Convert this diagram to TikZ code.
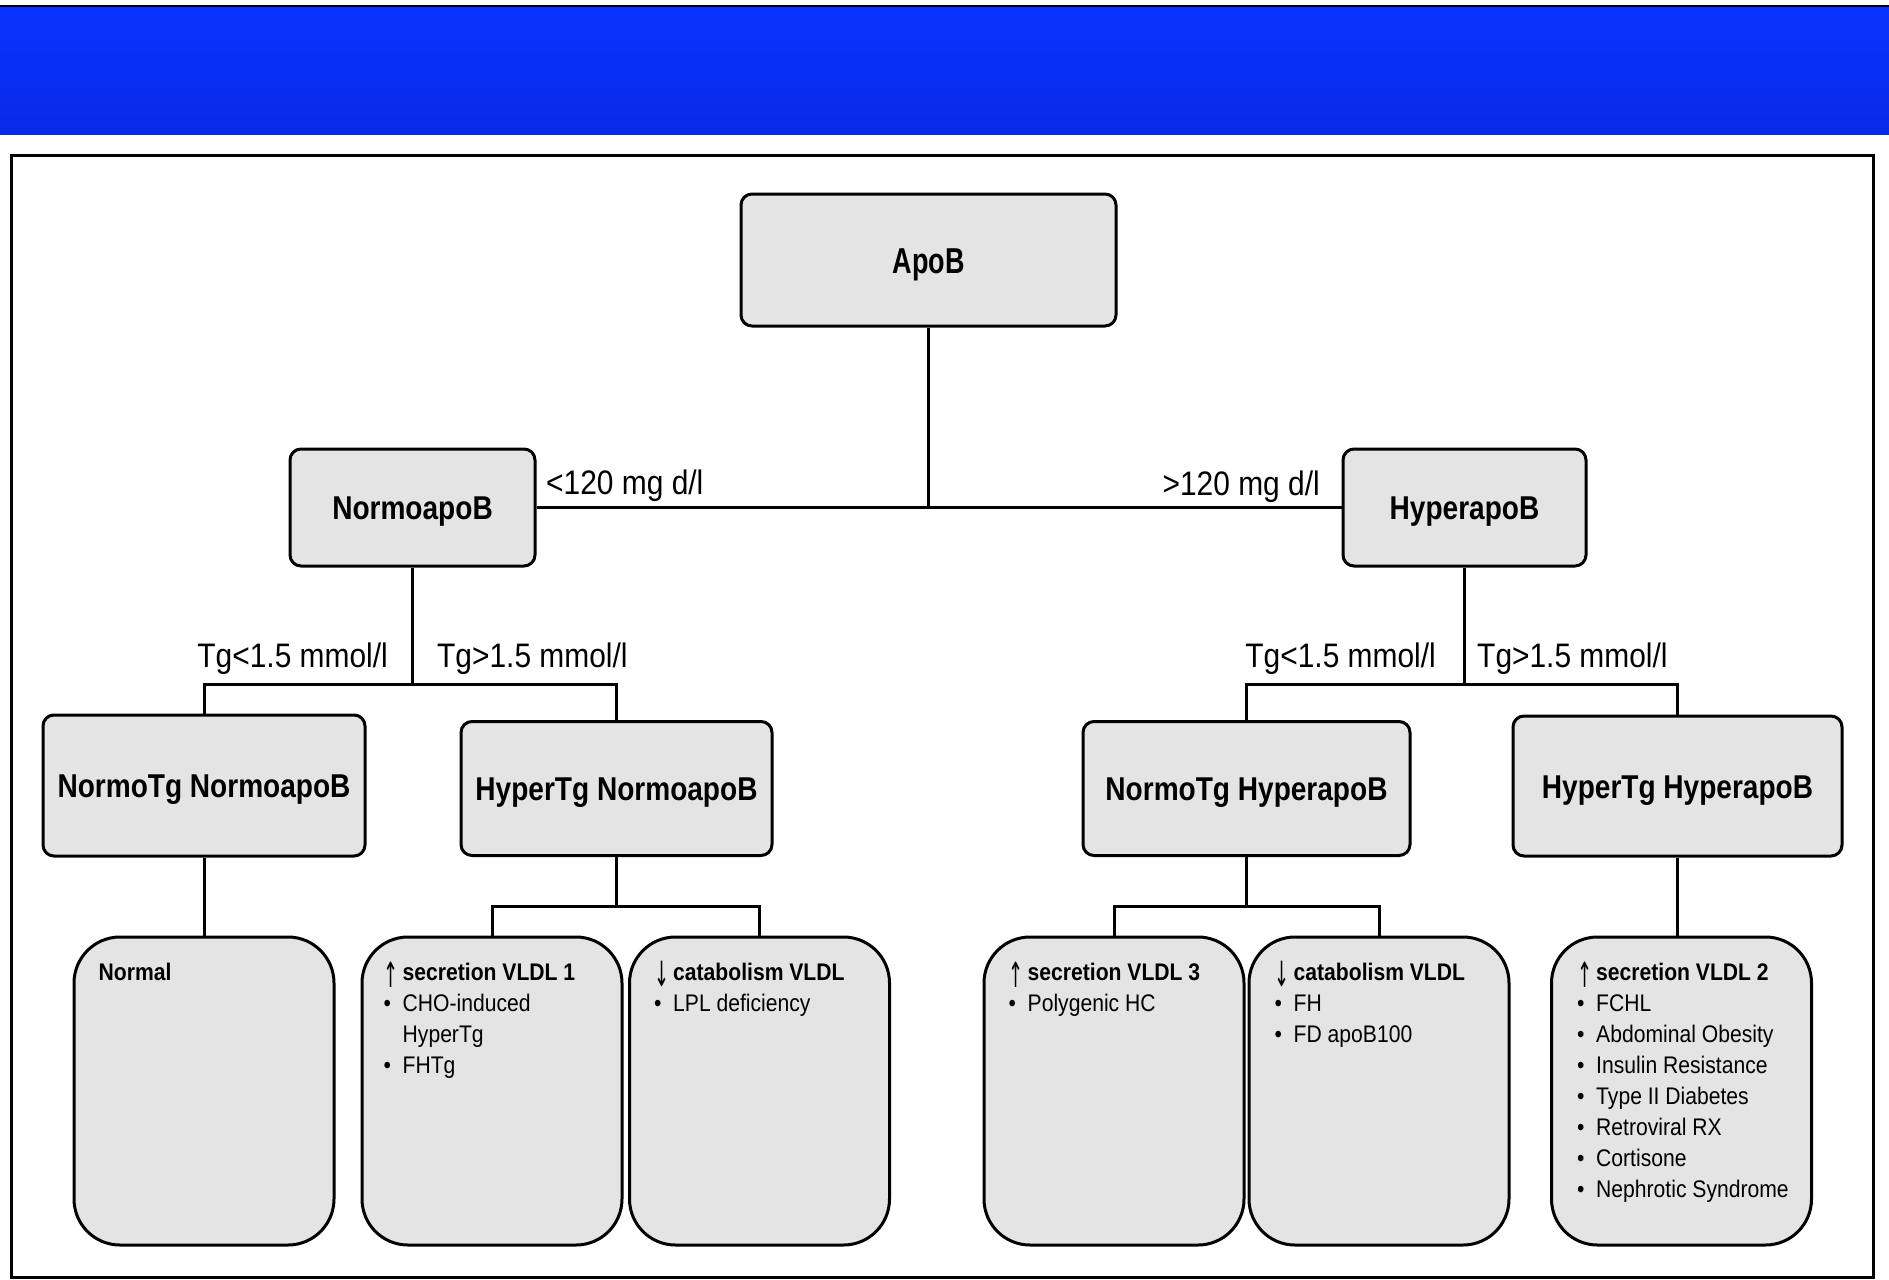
\documentclass[tikz,border=0pt]{standalone}
\usepackage{fontspec}
\usepackage{graphicx}
\setmainfont{Liberation Sans}[FakeStretch=0.88]
\newfontfamily\headfont{Liberation Sans}[FakeStretch=0.85]
\newfontfamily\apobfont{Liberation Sans}[FakeStretch=0.75]
\newfontfamily\symfont{DejaVu Sans}
\usetikzlibrary{positioning}

\definecolor{bannerblue}{RGB}{10,51,255}
\definecolor{bannerdark}{RGB}{8,41,232}
\definecolor{boxgray}{RGB}{228,228,228}

\newcommand{\risearrow}{{\symfont\raisebox{-7pt}{\scalebox{0.75}[1.45]{↑}}}}
\newcommand{\droparrow}{{\symfont\raisebox{-6pt}{\scalebox{0.75}[1.45]{↓}}}}

\tikzset{
  headbox/.style={draw, line width=3pt, fill=boxgray, rounded corners=11pt,
    inner sep=0pt, text height=24pt, text depth=0pt,
    font=\headfont\bfseries\fontsize{33}{40}\selectfont},
  leafbox/.style={draw, line width=3pt, fill=boxgray, rounded corners=46pt,
    minimum width=260pt, minimum height=308pt, inner sep=0pt},
  leaftext/.style={inner sep=0pt, align=left, font=\fontsize{24}{31}\selectfont},
  lbl/.style={inner sep=0pt, font=\fontsize{34}{40}\selectfont},
  conn/.style={line width=3pt},
}

\begin{document}
\begin{tikzpicture}[x=1pt, y=-1pt]
    % size of the slide
      \def\pagew{1889}
      \def\pageh{1279}
    % rows of splits
      \def\tgsplit{117}
      \def\leafsplit{49}

      \useasboundingbox (0,0) rectangle (\pagew,\pageh);

    % Draw the banner and the frame
      \shade[top color=bannerblue, bottom color=bannerdark] (0,7) rectangle (\pagew,135);
      \draw[line width=2pt] (0,6) -- (\pagew,6);
      \draw[line width=3pt] (11,155) rectangle (1873,1277);

    % Draw the boxes of the tree
      \node[headbox, minimum width=375pt, minimum height=132pt,
            font=\apobfont\bfseries\fontsize{36}{42}\selectfont, text height=26pt]
            (apob) at (928.5,260) {ApoB};
      \node[headbox, minimum width=245pt, minimum height=117pt] (normo) at (412.5,507.5) {NormoapoB};
      \node[headbox, minimum width=243pt, minimum height=117pt] (hyper) at (1464.5,507.5) {HyperapoB};

      \node[headbox, minimum width=322pt, minimum height=141pt] (nnTg) at (204,785.5) {NormoTg NormoapoB};
      \node[headbox, minimum width=311pt, minimum height=134pt] (hnTg) at (616.5,788.5) {HyperTg NormoapoB};
      \node[headbox, minimum width=327pt, minimum height=134pt] (nhTg) at (1246.5,788.5) {NormoTg HyperapoB};
      \node[headbox, minimum width=329pt, minimum height=140pt] (hhTg) at (1677.5,786) {HyperTg HyperapoB};

      \node[leafbox] (normal) at (204,1091) {};
      \node[leafbox] (vldlA) at (492,1091) {};
      \node[leafbox] (catabA) at (759.5,1091) {};
      \node[leafbox] (vldlC) at (1114,1091) {};
      \node[leafbox] (catabB) at (1379,1091) {};
      \node[leafbox] (vldlB) at (1681.5,1091) {};

    % Draw the connectors
      \draw[conn] (normo.east) -- (hyper.west);
      \draw[conn] (apob.south) -- (apob.south |- normo.east);

      \path (normo.south) ++(0,\tgsplit) coordinate (normosplit);
      \draw[conn] (normo.south) -- (normosplit);
      \draw[conn] (nnTg.north) |- (normosplit) -| (hnTg.north);

      \path (hyper.south) ++(0,\tgsplit) coordinate (hypersplit);
      \draw[conn] (hyper.south) -- (hypersplit);
      \draw[conn] (nhTg.north) |- (hypersplit) -| (hhTg.north);

      \draw[conn] (nnTg.south) -- (normal.north);

      \path (hnTg.south) ++(0,\leafsplit) coordinate (hnsplit);
      \draw[conn] (hnTg.south) -- (hnsplit);
      \draw[conn] (vldlA.north) |- (hnsplit) -| (catabA.north);

      \path (nhTg.south) ++(0,\leafsplit) coordinate (nhsplit);
      \draw[conn] (nhTg.south) -- (nhsplit);
      \draw[conn] (vldlC.north) |- (nhsplit) -| (catabB.north);

      \draw[conn] (hhTg.south) -- (hhTg.south |- vldlB.north);

    % Draw the cut-off labels
      \node[lbl, anchor=base west] (lowapob) at (546,494) {<120 mg d/l};
      \node[lbl, anchor=base east] (highapob) at (1320,495) {>120 mg d/l};
      \node[lbl, anchor=base east] (normolowtg) at (388,667) {Tg<1.5 mmol/l};
      \node[lbl, anchor=base west] (normohightg) at (437,667) {Tg>1.5 mmol/l};
      \node[lbl, anchor=base east] (hyperlowtg) at (1436,667) {Tg<1.5 mmol/l};
      \node[lbl, anchor=base west] (hyperhightg) at (1477,667) {Tg>1.5 mmol/l};

    % Draw the texts of the leaves
      \node[leaftext, below right=23pt and 26pt of normal.north west] (normaltext) {%
        \begin{tabular}{@{}l@{}}\textbf{Normal}\end{tabular}};
      \node[leaftext, below right=23pt and 23pt of vldlA.north west] (vldlAtext) {%
        \begin{tabular}{@{}p{19pt}@{}l@{}}
          \risearrow & \textbf{secretion VLDL 1}\\
          \textbullet & CHO-induced\\
                      & HyperTg\\
          \textbullet & FHTg
        \end{tabular}};
      \node[leaftext, below right=23pt and 26pt of catabA.north west] (catabAtext) {%
        \begin{tabular}{@{}p{19pt}@{}l@{}}
          \droparrow & \textbf{catabolism VLDL}\\
          \textbullet & LPL deficiency
        \end{tabular}};
      \node[leaftext, below right=23pt and 26pt of vldlC.north west] (vldlCtext) {%
        \begin{tabular}{@{}p{19pt}@{}l@{}}
          \risearrow & \textbf{secretion VLDL 3}\\
          \textbullet & Polygenic HC
        \end{tabular}};
      \node[leaftext, below right=23pt and 27pt of catabB.north west] (catabBtext) {%
        \begin{tabular}{@{}p{19pt}@{}l@{}}
          \droparrow & \textbf{catabolism VLDL}\\
          \textbullet & FH\\
          \textbullet & FD apoB100
        \end{tabular}};
      \node[leaftext, below right=23pt and 27pt of vldlB.north west] (vldlBtext) {%
        \begin{tabular}{@{}p{19pt}@{}l@{}}
          \risearrow & \textbf{secretion VLDL 2}\\
          \textbullet & FCHL\\
          \textbullet & Abdominal Obesity\\
          \textbullet & Insulin Resistance\\
          \textbullet & Type II Diabetes\\
          \textbullet & Retroviral RX\\
          \textbullet & Cortisone\\
          \textbullet & Nephrotic Syndrome
        \end{tabular}};
\end{tikzpicture}
\end{document}
